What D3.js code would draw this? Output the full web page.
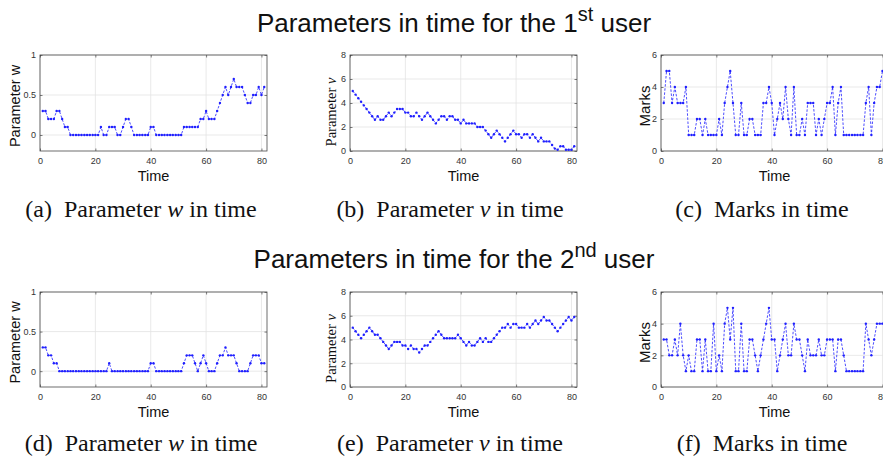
<!DOCTYPE html>
<meta charset="utf-8">
<head>
  <script src="https://cdn.jsdelivr.net/npm/d3@7"></script>
  <style>
    body { margin: 0; background: #fff; }
    svg { display: block; }
    .tick text { font-family: "Liberation Sans", Arial, sans-serif; font-size: 9px; fill: #333; }
    .lab { font-family: "Liberation Sans", Arial, sans-serif; fill: #111; }
    .serif { font-family: "Liberation Serif", "Times New Roman", serif; fill: #111; }
  </style>
</head>
<body>
<script>

// datos (t = 1..81)
var wUser1 = [0.3,0.3,0.2,0.2,0.2,0.3,0.3,0.2,0.1,0.1,
  0,0,0,0,0,0,0,0,0,0,0,
  0.1,0,0,0.1,0.1,0.1,0,0,0.1,0.2,0.2,0.1,
  0,0,0,0,0,0,0.1,0.1,
  0,0,0,0,0,0,0,0,0,0,
  0.1,0.1,0.1,0.1,0.1,0.1,0.2,0.2,0.3,0.2,0.2,0.2,
  0.3,0.4,0.5,0.6,0.5,0.6,0.7,0.6,0.6,0.6,0.5,0.4,0.4,0.5,0.5,0.6,0.5,0.6];

var nuUser1 = [5.0,4.7,4.4,4.1,3.8,3.5,3.2,2.9,2.6,2.9,
  2.6,2.6,2.9,3.2,2.9,3.2,3.5,3.5,3.5,3.2,
  3.2,2.9,2.9,3.2,2.9,2.6,2.9,3.2,2.9,2.6,
  2.3,2.6,2.9,2.9,2.6,2.9,2.9,2.6,2.6,2.3,
  2.6,2.3,2.3,2.3,2.3,2.0,2.0,2.0,1.7,1.4,
  1.1,1.4,1.7,1.4,1.1,0.8,1.1,1.4,1.7,1.4,
  1.4,1.1,1.4,1.4,1.1,1.4,1.1,0.8,1.1,0.8,
  0.8,0.8,0.5,0.2,0.1,0.4,0.4,0.1,0.1,0.1,
  0.4];

var marksUser1 = [3,5,5,3,4,3,3,3,4,1, 1,1,2,2,1,2,1,1,1,1,
  2,1,3,4,5,3,1,1,3,1, 1,2,2,1,1,1,3,3,4,3,
  1,2,3,2,4,2,1,4,1,1, 2,1,3,3,3,1,2,1,2,3,
  3,4,1,3,4,1,1,1,1,1, 1,1,1,3,4,1,3,4,4,5];

var wUser2 = [0.3,0.3,0.2,0.2,0.1,0.1,
  0,0,0,0,0,0,0,0,0,0,0,0,0,0,0,0,0,0,
  0.1,
  0,0,0,0,0,0,0,0,0,0,0,0,0,0,
  0.1,0.1,
  0,0,0,0,0,0,0,0,0,0,
  0.1,0.2,0.2,0.2,0.1,0,0.1,0.2,0.1,0,0,0,
  0.1,0.2,0.2,0.3,0.2,0.2,0.2,0.1,0,0,0,0,
  0.1,0.2,0.2,0.2,0.1,0.1];

var nuUser2 = [5.0,4.7,4.4,4.1,4.4,4.7,5.0,4.7,4.4,4.4,
  4.1,3.8,3.5,3.2,3.5,3.8,3.8,3.8,3.5,3.5,
  3.2,3.5,3.2,3.2,2.9,3.2,3.5,3.5,3.8,4.1,
  4.4,4.7,4.4,4.1,4.1,4.1,4.1,4.1,4.4,4.1,
  3.8,3.5,3.8,3.5,3.5,3.8,4.1,3.8,4.1,3.8,
  3.8,4.1,4.4,4.7,5.0,5.0,5.3,5.0,5.3,5.3,
  5.0,5.0,5.0,5.3,5.0,5.3,5.6,5.3,5.6,5.9,
  5.6,5.6,5.3,5.0,4.7,5.0,5.3,5.6,5.9,5.6,
  5.9];

var marksUser2 = [3,3,2,2,3,2,4,2,1,2, 1,1,3,3,1,3,1,1,4,1,
  2,1,4,5,3,5,1,1,4,1, 1,3,3,2,1,2,3,4,5,3,
  3,1,2,3,4,2,2,4,3,3, 2,1,3,2,2,2,3,2,2,3,
  3,3,1,3,3,2,1,1,1,1, 1,1,1,4,3,2,3,4,4,4];

var xTicks = [0, 20, 40, 60, 80];
var wTicks = [0, 0.5, 1];
var nuTicks = [0, 2, 4, 6, 8];
var marksTicks = [0, 2, 4, 6];

var titles = ["1", "2"];
var titleSup = ["st", "nd"];
var captionLetters = [["(a)", "(b)", "(c)"], ["(d)", "(e)", "(f)"]];

// geometria
var W = 883, H = 461;
var colX = [40, 350, 661];
var plotW = 227;
var rowY = [55, 292];
var plotH = [96, 95];

var svg = d3.select("body").append("svg")
  .attr("width", W).attr("height", H);

var fmt = function(d) { return String(d); };

// titulos de cada fila
titles.forEach(function(n, r) {
  var t = svg.append("text").attr("class", "lab")
    .attr("x", 454).attr("y", 32 + r * 236)
    .attr("text-anchor", "middle")
    .style("font-size", "26px");
  t.append("tspan").text("Parameters in time for the " + n);
  t.append("tspan").attr("dy", -11).style("font-size", "20px").text(titleSup[r]);
  t.append("tspan").attr("dy", 11).text(" user");
});

function styleTicks(a) {
  a.select(".domain").remove();
  a.selectAll("line").attr("stroke", "#262626").attr("stroke-width", 0.6);
}

function drawPanel(row, col, values, domainY, ticksY, yLabel) {
  var x0 = colX[col], y0 = rowY[row], h = plotH[row];
  var xScale = d3.scaleLinear().domain([0, 82]).range([0, plotW]);
  var yScale = d3.scaleLinear().domain(domainY).range([h, 0]);

  var g = svg.append("g").attr("transform", "translate(" + x0 + "," + y0 + ")");

  // rejilla
  g.selectAll(".gx").data(xTicks).enter().append("line")
    .attr("x1", function(d) { return xScale(d); }).attr("x2", function(d) { return xScale(d); })
    .attr("y1", 0).attr("y2", h)
    .attr("stroke", "#e3e3e3").attr("stroke-width", 0.8);
  g.selectAll(".gy").data(ticksY).enter().append("line")
    .attr("x1", 0).attr("x2", plotW)
    .attr("y1", function(d) { return yScale(d); }).attr("y2", function(d) { return yScale(d); })
    .attr("stroke", "#e3e3e3").attr("stroke-width", 0.8);

  // ejes
  var xAxis = d3.axisBottom(xScale).tickValues(xTicks).tickFormat(fmt).tickSizeInner(-2.5).tickSizeOuter(0).tickPadding(5);
  var yAxis = d3.axisLeft(yScale).tickValues(ticksY).tickFormat(fmt).tickSizeInner(-2.5).tickSizeOuter(0).tickPadding(4);
  var gx = g.append("g").attr("transform", "translate(0," + h + ")").call(xAxis).call(styleTicks);
  g.append("g").call(yAxis).call(styleTicks);
  gx.selectAll("text").attr("dy", "0.9em");
  // ticks arriba y derecha (box on)
  g.append("g").call(d3.axisTop(xScale).tickValues(xTicks).tickSizeInner(-2.5).tickSizeOuter(0).tickFormat(""))
    .call(styleTicks);
  g.append("g").attr("transform", "translate(" + plotW + ",0)")
    .call(d3.axisRight(yScale).tickValues(ticksY).tickSizeInner(-2.5).tickSizeOuter(0).tickFormat(""))
    .call(styleTicks);

  g.append("rect").attr("width", plotW).attr("height", h)
    .attr("fill", "none").attr("stroke", "#4a4a4a").attr("stroke-width", 0.8);

  // serie
  var line = d3.line()
    .x(function(d, i) { return xScale(i + 1); })
    .y(function(d) { return yScale(d); });
  g.append("path").datum(values)
    .attr("d", line)
    .attr("fill", "none").attr("stroke", "#1f1fff")
    .attr("stroke-width", 0.8).attr("stroke-dasharray", "2.5,1.6");
  g.selectAll(".pt").data(values).enter().append("circle")
    .attr("cx", function(d, i) { return xScale(i + 1); })
    .attr("cy", function(d) { return yScale(d); })
    .attr("r", 1.2).attr("fill", "#1f1fff");

  // etiqueta eje x
  g.append("text").attr("class", "lab")
    .attr("x", plotW / 2).attr("y", h + 30)
    .attr("text-anchor", "middle").style("font-size", "14.5px").text("Time");

  // etiqueta eje y
  var yl = g.append("text")
    .attr("text-anchor", "middle")
    .attr("transform", "translate(" + yLabel.x + "," + (h / 2 + yLabel.dy) + ") rotate(-90)");
  if (yLabel.serif) {
    yl.attr("class", "serif").style("font-size", "14.5px");
    yl.append("tspan").text("Parameter ");
    yl.append("tspan").style("font-style", "italic").text("\u03bd");
  } else {
    yl.attr("class", "lab").style("font-size", yLabel.size + "px").text(yLabel.text);
  }
}

var users = [
  { w: wUser1, nu: nuUser1, marks: marksUser1 },
  { w: wUser2, nu: nuUser2, marks: marksUser2 }
];

users.forEach(function(u, r) {
  drawPanel(r, 0, u.w, [-0.2, 1], wTicks, { x: -20, dy: 3, text: "Parameter w", size: 14.5 });
  drawPanel(r, 1, u.nu, [0, 8], nuTicks, { x: -14, dy: 9, serif: true });
  drawPanel(r, 2, u.marks, [0, 6], marksTicks, { x: -11, dy: 3, text: "Marks", size: 15 });

  // leyendas (subfiguras)
  var capY = [217, 451][r];
  var caps = [
    { x: 141, parts: [[captionLetters[r][0] + "\u2002Parameter ", false], ["w", true], [" in time", false]] },
    { x: 450, parts: [[captionLetters[r][1] + "\u2002Parameter ", false], ["\u03bd", true], [" in time", false]] },
    { x: 762, parts: [[captionLetters[r][2] + "\u2002Marks in time", false]] }
  ];
  caps.forEach(function(c) {
    var t = svg.append("text").attr("class", "serif")
      .attr("x", c.x).attr("y", capY).attr("text-anchor", "middle")
      .style("font-size", "24px");
    c.parts.forEach(function(p) {
      t.append("tspan").style("font-style", p[1] ? "italic" : "normal").text(p[0]);
    });
  });
});

</script>
</body>
